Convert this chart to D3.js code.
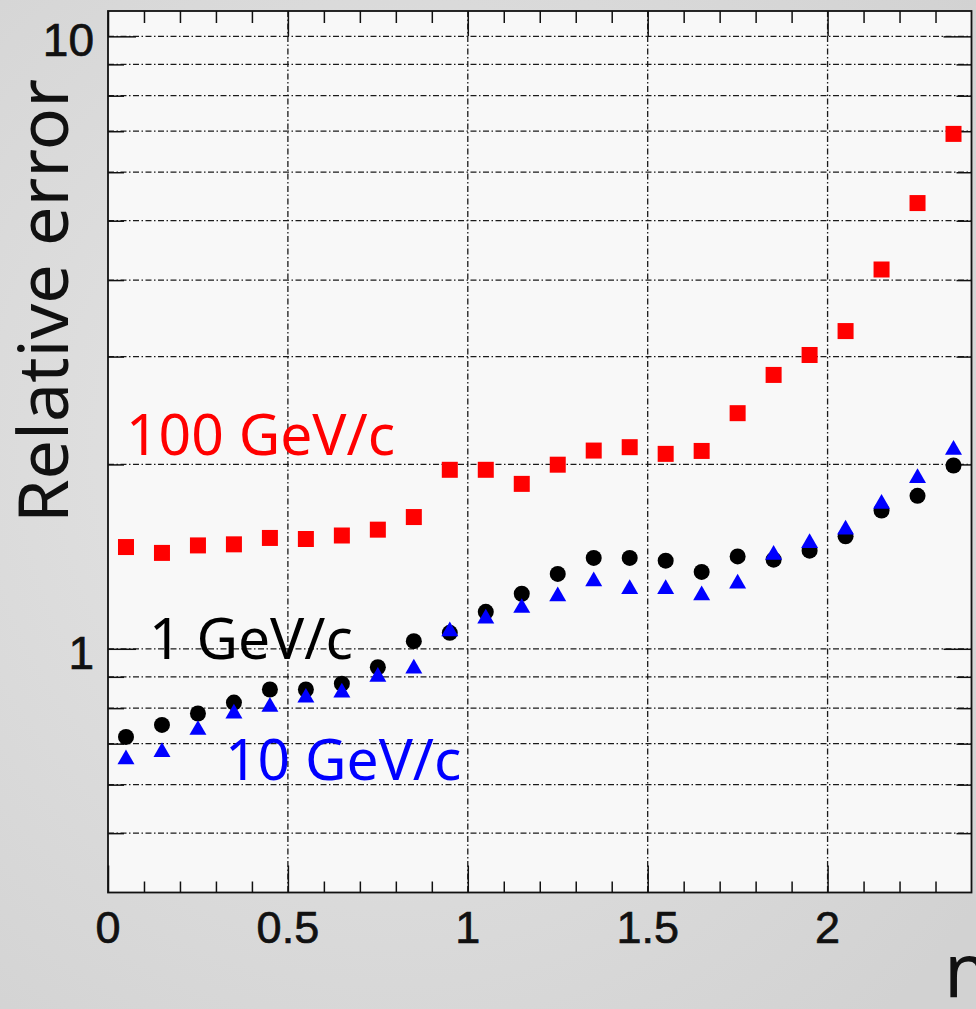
<!DOCTYPE html>
<html>
<head>
<meta charset="utf-8">
<script src="https://cdn.jsdelivr.net/npm/d3@7"></script>
<style>
  html, body { margin: 0; padding: 0; background: #dadada; overflow: hidden; }
  svg { display: block; }
</style>
</head>
<body>
<div id="chart"></div>
<script>
// eta bin centres
const etaBins = [0.05, 0.15, 0.25, 0.35, 0.45, 0.55, 0.65, 0.75, 0.85, 0.95, 1.05, 1.15,
                 1.25, 1.35, 1.45, 1.55, 1.65, 1.75, 1.85, 1.95, 2.05, 2.15, 2.25, 2.35]

// relative error per momentum
const err100 = [1.466, 1.434, 1.475, 1.481, 1.517, 1.511, 1.531, 1.565, 1.641, 1.960, 1.960, 1.859,
                1.998, 2.107, 2.134, 2.081, 2.104, 2.425, 2.80, 3.018, 3.302, 4.162, 5.343, 6.93]
const err1 = [0.718, 0.751, 0.784, 0.817, 0.858, 0.858, 0.877, 0.933, 1.029, 1.062, 1.149, 1.230,
              1.325, 1.407, 1.407, 1.393, 1.335, 1.415, 1.398, 1.446, 1.526, 1.682, 1.777, 1.992]
const err10 = [0.660, 0.678, 0.737, 0.784, 0.804, 0.832, 0.848, 0.900, 0.928, 1.068, 1.120, 1.166,
               1.218, 1.289, 1.252, 1.252, 1.223, 1.278, 1.424, 1.488, 1.565, 1.725, 1.900, 2.113]

const xMajorTicks = [0, 0.5, 1, 1.5, 2]
const xMinorTicks = [0.1, 0.2, 0.3, 0.4, 0.6, 0.7, 0.8, 0.9, 1.1, 1.2, 1.3, 1.4,
                     1.6, 1.7, 1.8, 1.9, 2.1, 2.2, 2.3]
const yMajorTicks = [1, 10]
const yMinorTicks = [0.5, 0.6, 0.7, 0.8, 0.9, 2, 3, 4, 5, 6, 7, 8, 9]

const labels = [
    { text: '100 GeV/c', colour: '#ff0000', x: 126, y: 455 },
    { text: '1 GeV/c', colour: '#000000', x: 149, y: 659 },
    { text: '10 GeV/c', colour: '#0000ff', x: 225, y: 780 }
]

const WIDTH = 976
const HEIGHT = 1009
const plotLeft = 108, plotRight = 971.5, plotTop = 11, plotBottom = 892.5

const svg = d3.select('#chart')
    .append('svg')
    .attr('width', WIDTH)
    .attr('height', HEIGHT)

// page background
const defs = svg.append('defs')
const grad = defs.append('radialGradient')
    .attr('id', 'bg')
    .attr('cx', '40%').attr('cy', '45%').attr('r', '75%')
grad.append('stop').attr('offset', '0%').attr('stop-color', '#e6e6e6')
grad.append('stop').attr('offset', '100%').attr('stop-color', '#d2d2d2')

svg.append('rect')
    .attr('width', WIDTH)
    .attr('height', HEIGHT)
    .attr('fill', 'url(#bg)')

const xScale = d3.scaleLinear()
    .domain([0, 2.4])
    .range([plotLeft, plotRight])

const yScale = d3.scaleLog()
    .domain([0.4, 11])
    .range([plotBottom, plotTop])

// plot area
svg.append('rect')
    .attr('x', plotLeft)
    .attr('y', plotTop)
    .attr('width', plotRight - plotLeft)
    .attr('height', plotBottom - plotTop)
    .attr('fill', '#f8f8f8')

// grid
const gridDash = '6,2.5,1.5,2.5'
svg.append('g')
    .selectAll('line')
    .data(yMajorTicks.concat(yMinorTicks))
    .join('line')
    .attr('x1', plotLeft)
    .attr('x2', plotRight)
    .attr('y1', d => yScale(d))
    .attr('y2', d => yScale(d))
    .attr('stroke', '#1a1a1a')
    .attr('stroke-width', 1.3)
    .attr('stroke-dasharray', gridDash)

svg.append('g')
    .selectAll('line')
    .data(xMajorTicks.slice(1))
    .join('line')
    .attr('x1', d => xScale(d))
    .attr('x2', d => xScale(d))
    .attr('y1', plotTop)
    .attr('y2', plotBottom)
    .attr('stroke', '#1a1a1a')
    .attr('stroke-width', 1.3)
    .attr('stroke-dasharray', gridDash)

// ticks via axes (drawn inward)
const styleAxis = g => {
    g.select('.domain').remove()
    g.selectAll('.tick line').attr('stroke', '#111').attr('stroke-width', 1.5)
}

svg.append('g')
    .attr('transform', `translate(0, ${plotBottom})`)
    .call(d3.axisBottom(xScale).tickValues(xMajorTicks).tickSize(-27).tickFormat(''))
    .call(styleAxis)
svg.append('g')
    .attr('transform', `translate(0, ${plotBottom})`)
    .call(d3.axisBottom(xScale).tickValues(xMinorTicks).tickSize(-11).tickFormat(''))
    .call(styleAxis)
svg.append('g')
    .attr('transform', `translate(0, ${plotTop})`)
    .call(d3.axisTop(xScale).tickValues(xMajorTicks).tickSize(-25).tickFormat(''))
    .call(styleAxis)
svg.append('g')
    .attr('transform', `translate(0, ${plotTop})`)
    .call(d3.axisTop(xScale).tickValues(xMinorTicks).tickSize(-12).tickFormat(''))
    .call(styleAxis)

svg.append('g')
    .attr('transform', `translate(${plotLeft}, 0)`)
    .call(d3.axisLeft(yScale).tickValues(yMajorTicks).tickSize(-28).tickFormat(''))
    .call(styleAxis)
svg.append('g')
    .attr('transform', `translate(${plotLeft}, 0)`)
    .call(d3.axisLeft(yScale).tickValues(yMinorTicks).tickSize(-16).tickFormat(''))
    .call(styleAxis)
svg.append('g')
    .attr('transform', `translate(${plotRight}, 0)`)
    .call(d3.axisRight(yScale).tickValues(yMajorTicks).tickSize(-28).tickFormat(''))
    .call(styleAxis)
svg.append('g')
    .attr('transform', `translate(${plotRight}, 0)`)
    .call(d3.axisRight(yScale).tickValues(yMinorTicks).tickSize(-15).tickFormat(''))
    .call(styleAxis)

// frame
svg.append('rect')
    .attr('x', plotLeft)
    .attr('y', plotTop)
    .attr('width', plotRight - plotLeft)
    .attr('height', plotBottom - plotTop)
    .attr('fill', 'none')
    .attr('stroke', '#111')
    .attr('stroke-width', 1.8)

// tick labels
svg.append('g')
    .selectAll('text')
    .data(xMajorTicks)
    .join('text')
    .attr('x', d => xScale(d))
    .attr('y', 943)
    .attr('text-anchor', 'middle')
    .attr('font-family', '"Liberation Sans", Arial, sans-serif')
    .attr('font-size', 45)
    .attr('fill', '#111')
    .attr('stroke', '#111')
    .attr('stroke-width', 0.7)
    .text(d => d)

svg.append('g')
    .selectAll('text')
    .data(yMajorTicks)
    .join('text')
    .attr('x', 94)
    .attr('y', d => yScale(d) + 20)
    .attr('text-anchor', 'end')
    .attr('font-family', '"Liberation Sans", Arial, sans-serif')
    .attr('font-size', 46)
    .attr('fill', '#111')
    .attr('stroke', '#111')
    .attr('stroke-width', 0.7)
    .text(d => d)

// axis titles
svg.append('text')
    .attr('transform', 'translate(68, 523) rotate(-90)')
    .attr('font-family', '"Noto Sans", sans-serif')
    .attr('font-size', 70)
    .attr('fill', '#111')
    .text('Relative error')

svg.append('text')
    .attr('x', 944)
    .attr('y', 997)
    .attr('font-family', '"Noto Sans", sans-serif')
    .attr('font-size', 75)
    .attr('fill', '#111')
    .text('η')

// series labels
svg.append('g')
    .selectAll('text')
    .data(labels)
    .join('text')
    .attr('x', d => d.x)
    .attr('y', d => d.y)
    .attr('font-family', '"Noto Sans", sans-serif')
    .attr('font-size', 57)
    .attr('fill', d => d.colour)
    .text(d => d.text)

// markers
const pts = vals => etaBins.map((x, i) => ({ x, y: vals[i] }))

svg.append('g')
    .selectAll('rect')
    .data(pts(err100))
    .join('rect')
    .attr('x', d => xScale(d.x) - 8)
    .attr('y', d => yScale(d.y) - 8)
    .attr('width', 16)
    .attr('height', 16)
    .attr('fill', '#ff0000')

svg.append('g')
    .selectAll('circle')
    .data(pts(err1))
    .join('circle')
    .attr('cx', d => xScale(d.x))
    .attr('cy', d => yScale(d.y))
    .attr('r', 8)
    .attr('fill', '#000')

svg.append('g')
    .selectAll('path')
    .data(pts(err10))
    .join('path')
    .attr('transform', d => `translate(${xScale(d.x)}, ${yScale(d.y)})`)
    .attr('d', d3.symbol(d3.symbolTriangle, 125))
    .attr('fill', '#0000ff')
</script>
</body>
</html>
